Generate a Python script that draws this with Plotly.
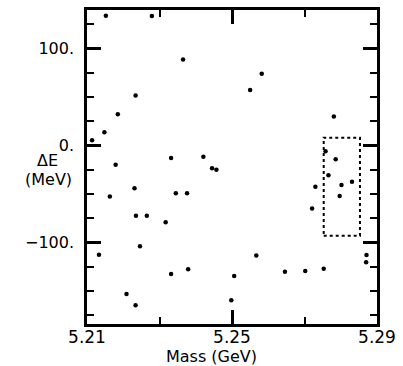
import plotly.graph_objects as go

# Candidate events: mass (GeV) and Delta E (MeV)
mass = [5.2152, 5.2279, 5.2365, 5.2234, 5.2185, 5.2148, 5.2114, 5.2332, 5.2179,
        5.2582, 5.2550, 5.2781, 5.2421, 5.2445, 5.2457, 5.2758, 5.2786, 5.2766,
        5.2730, 5.2802, 5.2831, 5.2797, 5.2721, 5.2231, 5.2163, 5.2345, 5.2376,
        5.2235, 5.2265, 5.2317, 5.2246, 5.2133, 5.2332, 5.2379, 5.2209, 5.2234,
        5.2567, 5.2871, 5.2870, 5.2506, 5.2646, 5.2702, 5.2753, 5.2498]
delta_e = [133.6, 133.3, 88.5, 51.4, 32.2, 13.5, 5.3, -13.1, -20.0,
           73.9, 57.2, 29.9, -11.6, -23.6, -25.1, -5.9, -14.3, -30.8,
           -42.5, -40.7, -37.4, -52.0, -65.0, -44.1, -52.7, -49.3, -49.3,
           -72.5, -72.5, -79.3, -103.9, -112.7, -132.5, -127.7, -153.0, -164.6,
           -113.4, -112.9, -120.3, -134.6, -130.1, -129.5, -127.0, -159.5]

# Signal box
box_mass = [5.2753, 5.2853]
box_de = [-93.0, 8.0]

x_tickvals = [5.21, 5.25, 5.29]
x_ticktext = ["5.21", "5.25", "5.29"]
y_tickvals = [-100, 0, 100]
y_ticktext = ["\u2212100.", "0.", "100."]

FONT = "DejaVu Sans"

fig = go.Figure()
fig.add_trace(go.Scatter(x=mass, y=delta_e, mode="markers",
                         marker=dict(size=4.5, color="black"),
                         showlegend=False, hoverinfo="skip"))

fig.add_shape(type="rect", xref="x", yref="y",
              x0=box_mass[0], x1=box_mass[1], y0=box_de[0], y1=box_de[1],
              line=dict(color="black", width=2, dash="dot"))

fig.update_layout(
    width=403, height=366,
    margin=dict(l=87, r=22, t=7, b=42, pad=0),
    paper_bgcolor="white", plot_bgcolor="white",
    font=dict(family=FONT, color="black"),
)

fig.update_xaxes(range=[5.21, 5.29], tickmode="array", tickvals=x_tickvals,
                 ticktext=x_ticktext, ticks="inside", ticklen=14, tickwidth=2.5,
                 tickcolor="black", showline=True, linewidth=2.5, linecolor="black",
                 mirror="allticks", showgrid=False, zeroline=False,
                 tickfont=dict(size=17, family=FONT, color="black"),
                 ticklabelstandoff=-4,
                 minor=dict(tickmode="linear", tick0=5.21, dtick=0.02, ticks="inside",
                            ticklen=7, tickwidth=2, tickcolor="black", showgrid=False))
fig.update_yaxes(range=[-184, 139.5], tickmode="array", tickvals=y_tickvals,
                 ticktext=y_ticktext, ticks="inside", ticklen=14, tickwidth=2.5,
                 tickcolor="black", showline=True, linewidth=2.5, linecolor="black",
                 mirror="allticks", showgrid=False, zeroline=False,
                 tickfont=dict(size=16, family=FONT, color="black"),
                 ticklabelstandoff=7,
                 minor=dict(tickmode="linear", tick0=0, dtick=25, ticks="inside",
                            ticklen=7, tickwidth=2, tickcolor="black", showgrid=False))

fig.add_annotation(text="Mass (GeV)", xref="paper", yref="paper",
                   x=0.429, y=-0.104, xanchor="center", yanchor="middle",
                   showarrow=False, font=dict(size=16, family=FONT, color="black"))
fig.add_annotation(text="\u0394E", xref="paper", yref="paper",
                   x=(47 - 87) / 293.5, y=(324 - 159) / 316, xanchor="center",
                   yanchor="middle", showarrow=False,
                   font=dict(size=16, family=FONT, color="black"))
fig.add_annotation(text="(MeV)", xref="paper", yref="paper",
                   x=(48 - 87) / 293.5, y=(324 - 179) / 316, xanchor="center",
                   yanchor="middle", showarrow=False,
                   font=dict(size=16, family=FONT, color="black"))

fig.write_html("out.html")
